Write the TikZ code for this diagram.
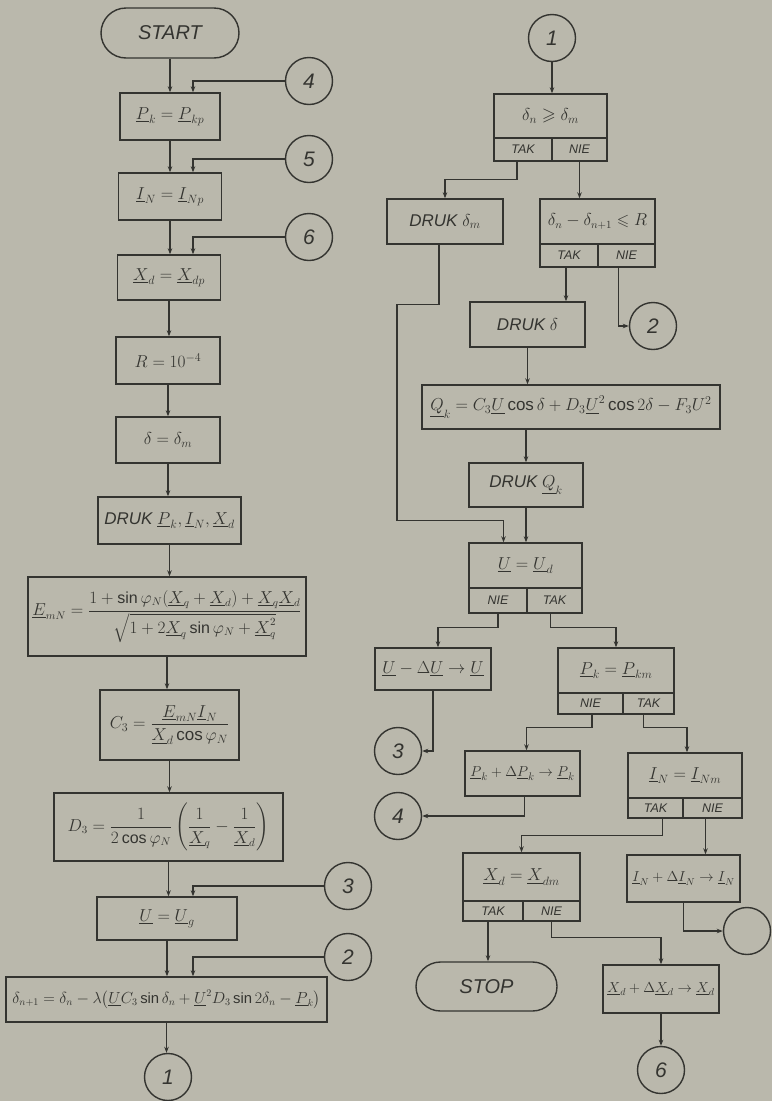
\documentclass[tikz,border=0pt]{standalone}
\usepackage{amsmath,amssymb}
\usepackage{graphicx}
\usepackage{fontspec}
\setmainfont{Liberation Sans}
\usetikzlibrary{shapes.misc,arrows.meta}
\definecolor{bg}{RGB}{186,184,172}
\definecolor{ink}{RGB}{52,52,48}
\newcommand{\uu}[1]{\underline{#1}}
\tikzset{
  box/.style={draw, rectangle, inner sep=1pt, font=\fontsize{18}{20}\selectfont\itshape},
  term/.style={draw, rounded rectangle, inner sep=1pt, font=\fontsize{20}{22}\selectfont\itshape},
  conn/.style={draw, circle, minimum size=47pt, inner sep=0pt, font=\fontsize{21}{23}\selectfont\itshape},
  cell/.style={draw, rectangle, inner sep=0pt, font=\fontsize{12.5}{14}\selectfont\itshape},
  arr/.style={-{Stealth[length=6pt,width=4.5pt]}},
}
\begin{document}
\begin{tikzpicture}[x=1pt,y=-1pt,line width=1.4pt,color=ink]
\fill[bg] (0,0) rectangle (772,1101);
\useasboundingbox (0,0) rectangle (772,1101);

% ---------------- left column ----------------
\node[term, minimum width=140pt, minimum height=50pt] (start) at (170,33) {START};
\node[conn] (c4L) at (309,81) {4};
\node[box, minimum width=100pt, minimum height=47pt] (bP) at (170,116.5) {$\uu{P}_k=\uu{P}_{kp}$};
\node[conn] (c5L) at (309,159) {5};
\node[box, minimum width=103pt, minimum height=47pt] (bI) at (170,196.5) {$\uu{I}_N=\uu{I}_{Np}$};
\node[conn] (c6L) at (309,237) {6};
\node[box, minimum width=103pt, minimum height=45pt] (bX) at (169,277.5) {$\uu{X}_d=\uu{X}_{dp}$};
\node[box, minimum width=104pt, minimum height=47pt] (bR) at (168,360.5) {$R=10^{-4}$};
\node[box, minimum width=104pt, minimum height=46pt] (bDel) at (168,440) {$\delta=\delta_m$};
\node[box, minimum width=143pt, minimum height=47pt, font=\fontsize{17}{19}\selectfont\itshape] (bDr) at (169.5,520.5) {DRUK $\uu{P}_k,\uu{I}_N,\uu{X}_d$};
\node[box, minimum width=278pt, minimum height=79pt, font=\fontsize{16}{18}\selectfont] (bE) at (167,616.5)
  {$\uu{E}_{mN}=\dfrac{1+\sin\varphi_N(\uu{X}_q+\uu{X}_d)+\uu{X}_q\uu{X}_d}{\sqrt{1+2\uu{X}_q\sin\varphi_N+\uu{X}_q^{2}}}$};
\node[box, minimum width=139pt, minimum height=70pt, font=\fontsize{17}{19}\selectfont] (bC) at (169.5,725)
  {$C_3=\dfrac{\uu{E}_{mN}\uu{I}_N}{\uu{X}_d\cos\varphi_N}$};
\node[box, minimum width=229pt, minimum height=68pt, font=\fontsize{16}{18}\selectfont] (bD3) at (168.5,827)
  {$D_3=\dfrac{1}{2\cos\varphi_N}\left(\dfrac{1}{\uu{X}_q}-\dfrac{1}{\uu{X}_d}\right)$};
\node[conn] (c3L) at (348,886) {3};
\node[box, minimum width=140pt, minimum height=43pt] (bU) at (167,918.5) {$\uu{U}=\uu{U}_g$};
\node[conn] (c2L) at (348,957) {2};
\node[box, minimum width=321pt, minimum height=45pt, font=\fontsize{16}{18}\selectfont] (bN) at (166.5,999.5)
  {\resizebox{308pt}{!}{$\delta_{n+1}=\delta_n-\lambda\bigl(\uu{U}C_3\sin\delta_n+\uu{U}^2D_3\sin2\delta_n-\uu{P}_k\bigr)$}};
\node[conn] (c1L) at (168,1077) {1};

% left connectors
\draw[arr] (start.south) -- (start.south |- bP.north);
\draw[arr] (c4L.west) -| ([xshift=23pt]bP.north);
\draw[arr] (bP.south) -- (bP.south |- bI.north);
\draw[arr] (c5L.west) -| ([xshift=23pt]bI.north);
\draw[arr] (bI.south) -- (bI.south |- bX.north);
\draw[arr] (c6L.west) -| ([xshift=24pt]bX.north);
\draw[arr] (bX.south) -- (bX.south |- bR.north);
\draw[arr] (bR.south) -- (bR.south |- bDel.north);
\draw[arr] (bDel.south) -- (bDel.south |- bDr.north);
\draw[arr] (bDr.south) -- (bDr.south |- bE.north);
\draw[arr] (bE.south) -- (bE.south |- bC.north);
\draw[arr] (bC.south) -- (bC.south |- bD3.north);
\draw[arr] (bD3.south) -- (bD3.south |- bU.north);
\draw[arr] (c3L.west) -| ([xshift=26pt]bU.north);
\draw[arr] (bU.south) -- (bU.south |- bN.north);
\draw[arr] (c2L.west) -| ([xshift=26.5pt]bN.north);
\draw[arr] (bN.south) -- (bN.south |- c1L.north);

% ---------------- right column ----------------
\node[conn] (c1R) at (552,38) {1};
% decision 1
\node[box, minimum width=113pt, minimum height=44pt] (d1) at (550.5,116) {$\delta_n\geqslant\delta_m$};
\node[cell, minimum width=58pt, minimum height=23pt] (d1l) at (523,149.5) {TAK};
\node[cell, minimum width=55pt, minimum height=23pt] (d1r) at (579.5,149.5) {NIE};
\node[box, minimum width=116pt, minimum height=45pt, font=\fontsize{17}{19}\selectfont\itshape] (bDm) at (445,221.5) {DRUK $\delta_m$};
% decision 2
\node[box, minimum width=115pt, minimum height=45pt, font=\fontsize{16}{18}\selectfont] (d2) at (597.5,221.5) {$\delta_n-\delta_{n+1}\leqslant R$};
\node[cell, minimum width=58pt, minimum height=23pt] (d2l) at (569,255.5) {TAK};
\node[cell, minimum width=57pt, minimum height=23pt] (d2r) at (626.5,255.5) {NIE};
\node[conn] (c2R) at (653,326) {2};
\node[box, minimum width=115pt, minimum height=45pt, font=\fontsize{17}{19}\selectfont\itshape] (bDd) at (527.5,324.5) {DRUK $\delta$};
\node[box, minimum width=298pt, minimum height=44pt, font=\fontsize{17}{19}\selectfont] (bQ) at (571,407)
  {$\uu{Q}_k=C_3\uu{U}\cos\delta+D_3\uu{U}^2\cos2\delta-F_3U^2$};
\node[box, minimum width=114pt, minimum height=44pt, font=\fontsize{17}{19}\selectfont\itshape] (bDq) at (526,485) {DRUK $\uu{Q}_k$};
% decision 3
\node[box, minimum width=113pt, minimum height=45pt] (d3) at (525.5,565.5) {$\uu{U}=\uu{U}_d$};
\node[cell, minimum width=58pt, minimum height=25pt] (d3l) at (498,600.5) {NIE};
\node[cell, minimum width=55pt, minimum height=25pt] (d3r) at (554.5,600.5) {TAK};
\node[box, minimum width=116pt, minimum height=42pt, font=\fontsize{16}{18}\selectfont] (bUd) at (433,669) {$\uu{U}-\Delta\uu{U}\rightarrow\uu{U}$};
\node[conn] (c3R) at (398,751) {3};
% decision 4
\node[box, minimum width=116pt, minimum height=45pt] (d4) at (616,670.5) {$\uu{P}_k=\uu{P}_{km}$};
\node[cell, minimum width=65pt, minimum height=21pt] (d4l) at (590.5,703.5) {NIE};
\node[cell, minimum width=51pt, minimum height=21pt] (d4r) at (648.5,703.5) {TAK};
\node[box, minimum width=115pt, minimum height=45pt, font=\fontsize{15}{17}\selectfont] (bPd) at (522.5,773.5) {$\uu{P}_k+\Delta\uu{P}_k\rightarrow\uu{P}_k$};
\node[conn] (c4R) at (398,816) {4};
% decision 5
\node[box, minimum width=114pt, minimum height=45pt] (d5) at (685,775.5) {$\uu{I}_N=\uu{I}_{Nm}$};
\node[cell, minimum width=55pt, minimum height=20pt] (d5l) at (655.5,808) {TAK};
\node[cell, minimum width=59pt, minimum height=20pt] (d5r) at (712.5,808) {NIE};
\node[box, minimum width=113pt, minimum height=47pt, font=\fontsize{14.5}{16}\selectfont] (bId) at (683.5,878.5) {$\uu{I}_N+\Delta\uu{I}_N\rightarrow\uu{I}_N$};
\node[conn] (cE) at (747,931) {};
% decision 6
\node[box, minimum width=117pt, minimum height=48pt] (d6) at (521.5,877) {$\uu{X}_d=\uu{X}_{dm}$};
\node[cell, minimum width=60pt, minimum height=20pt] (d6l) at (493,911) {TAK};
\node[cell, minimum width=57pt, minimum height=20pt] (d6r) at (551.5,911) {NIE};
\node[term, minimum width=143pt, minimum height=49pt] (stop) at (486.5,986.5) {STOP};
\node[box, minimum width=116pt, minimum height=48pt, font=\fontsize{14.5}{16}\selectfont] (bXd) at (661,989) {$\uu{X}_d+\Delta\uu{X}_d\rightarrow\uu{X}_d$};
\node[conn] (c6R) at (661,1070) {6};

% right connectors
\draw[arr] (c1R.south) -- (c1R.south |- d1.north);
\draw[arr] ([xshift=-6pt]d1l.south) -- ++(0,18) -| (bDm.north);
\draw[arr] (d1r.south) -- (d1r.south |- d2.north);
\draw[arr] ([xshift=-3pt]d2l.south) -- ([xshift=-3pt]d2l.south |- bDd.north);
\draw[arr] ([xshift=-8pt]d2r.south) |- (c2R.west);
\draw[arr] ([xshift=-6pt]bDm.south) -- ++(0,60) -- ++(-42,0) -- ++(0,216) -| ([xshift=-22pt]d3.north);
\draw[arr] (bDd.south) -- (bDd.south |- bQ.north);
\draw[arr] (bDq.north |- bQ.south) -- (bDq.north);
\draw[arr] (bDq.south) -- (bDq.south |- d3.north);
\draw[arr] (d3l.south) -- ++(0,14) -| ([xshift=5pt]bUd.north);
\draw[arr] ([xshift=-4pt]d3r.south) -- ++(0,14) -| (d4.north);
\draw[arr] (bUd.south) |- (c3R.east);
\draw[arr] ([xshift=1.5pt]d4l.south) -- ++(0,13) -| ([xshift=4pt]bPd.north);
\draw[arr] ([xshift=-5pt]d4r.south) -- ++(0,13) -| ([xshift=2pt]d5.north);
\draw[arr] ([xshift=2pt]bPd.south) |- (c4R.east);
\draw[arr] ([xshift=7pt]d5l.south) -- ++(0,17) -| (d6.north);
\draw[arr] ([xshift=-7pt]d5r.south) -- ([xshift=-7pt]d5r.south |- bId.north);
\draw[arr] (bId.south) |- (cE.west);
\draw[arr] ([xshift=-5pt]d6l.south) -- ([xshift=-5pt]d6l.south |- stop.north);
\draw[arr] (d6r.south) -- ++(0,16) -| (bXd.north);
\draw[arr] (bXd.south) -- (bXd.south |- c6R.north);
\end{tikzpicture}
\end{document}
